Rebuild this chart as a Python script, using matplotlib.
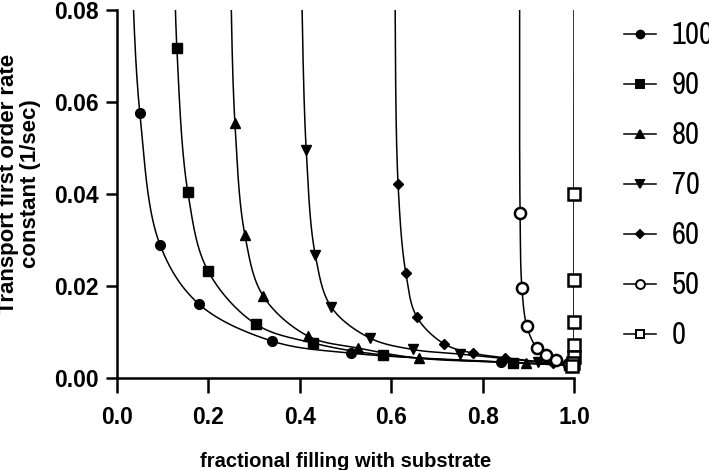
import matplotlib
matplotlib.use("Agg")
import matplotlib.pyplot as plt
from matplotlib.lines import Line2D
import numpy as np

# fractional filling (x) and transport rate constant (y, 1/sec) for each series
x100 = [0.028, 0.050, 0.094, 0.180, 0.340, 0.511, 0.840, 0.990]
y100 = [0.100, 0.0576, 0.0290, 0.0160, 0.0080, 0.0054, 0.0035, 0.0027]

x90 = [0.124, 0.131, 0.155, 0.199, 0.304, 0.429, 0.582, 0.866, 0.990]
y90 = [0.100, 0.0717, 0.0404, 0.0233, 0.0117, 0.0076, 0.0050, 0.0033, 0.0028]

x80 = [0.246, 0.258, 0.280, 0.320, 0.418, 0.528, 0.661, 0.894, 0.990]
y80 = [0.100, 0.0554, 0.0310, 0.0178, 0.0091, 0.0065, 0.0043, 0.0033, 0.0028]

x70 = [0.401, 0.414, 0.434, 0.469, 0.553, 0.647, 0.750, 0.922, 0.990]
y70 = [0.100, 0.0496, 0.0267, 0.0154, 0.0087, 0.0062, 0.0052, 0.0035, 0.0029]

x60 = [0.607, 0.615, 0.632, 0.656, 0.716, 0.779, 0.849, 0.954, 0.990]
y60 = [0.100, 0.0422, 0.0228, 0.0133, 0.0074, 0.0054, 0.0044, 0.0032, 0.0028]

x50 = [0.881, 0.882, 0.886, 0.897, 0.918, 0.939, 0.960, 0.990]
y50 = [0.100, 0.0358, 0.0196, 0.0112, 0.0066, 0.0050, 0.0040, 0.0030]

x0 = [1.000, 1.000, 1.000, 1.000, 1.000, 0.999, 0.998, 0.995]
y0 = [0.100, 0.0400, 0.0213, 0.0122, 0.0072, 0.0045, 0.0033, 0.0027]

labels = ["100", "90", "80", "70", "60", "50", "0"]

BOLD = "Liberation Sans"
NARROW = ["Archivo Narrow", "Liberation Sans"]


def spline(x, y, n=40):
    # centripetal Catmull-Rom through the points (drawn like a Prism spline)
    P = np.column_stack([np.asarray(x) * 457.0, np.asarray(y) * 4600.0])
    P = np.vstack([2 * P[0] - P[1], P, 2 * P[-1] - P[-2]])
    out = []
    for i in range(1, len(P) - 2):
        p0, p1, p2, p3 = P[i - 1], P[i], P[i + 1], P[i + 2]
        t0 = 0.0
        t1 = t0 + max(np.linalg.norm(p1 - p0), 1e-6) ** 0.5
        t2 = t1 + max(np.linalg.norm(p2 - p1), 1e-6) ** 0.5
        t3 = t2 + max(np.linalg.norm(p3 - p2), 1e-6) ** 0.5
        t = np.linspace(t1, t2, n)[:, None]
        a1 = (t1 - t) / (t1 - t0) * p0 + (t - t0) / (t1 - t0) * p1
        a2 = (t2 - t) / (t2 - t1) * p1 + (t - t1) / (t2 - t1) * p2
        a3 = (t3 - t) / (t3 - t2) * p2 + (t - t2) / (t3 - t2) * p3
        b1 = (t2 - t) / (t2 - t0) * a1 + (t - t0) / (t2 - t0) * a2
        b2 = (t3 - t) / (t3 - t1) * a2 + (t - t1) / (t3 - t1) * a3
        out.append((t2 - t) / (t2 - t1) * b1 + (t - t1) / (t2 - t1) * b2)
    c = np.vstack(out)
    return c[:, 0] / 457.0, c[:, 1] / 4600.0


fig = plt.figure(figsize=(7.09, 4.70), dpi=100)
ax = fig.add_axes([117 / 709, 1 - 378 / 470, 457 / 709, 368 / 470])

series = [
    (x100, y100, dict(marker="o", ms=7, mfc="black")),
    (x90, y90, dict(marker="s", ms=7, mfc="black")),
    (x80, y80, dict(marker="^", ms=7, mfc="black")),
    (x70, y70, dict(marker="v", ms=7, mfc="black")),
    (x60, y60, dict(marker="D", ms=5, mfc="black")),
    (x50, y50, dict(marker="o", ms=8, mfc="white", mew=1.8)),
    (x0, y0, dict(marker="s", ms=8, mfc="white", mew=1.8)),
]

handles = []
for (x, y, style), lab in zip(series, labels):
    sx, sy = spline(x, y)
    ax.plot(sx, sy, color="black", lw=1.1)
    xa, ya = np.array(x), np.array(y)
    keep = ya <= 0.08
    ax.plot(xa[keep], ya[keep], ls="none", color="black", mec="black",
            clip_on=False, zorder=3, **style)
    leg_style = dict(style)
    leg_style["ms"] = style["ms"] * 0.8
    leg_style["mew"] = 1.4
    handles.append(Line2D([], [], color="black", lw=1.1, mec="black", **leg_style))

ax.set_xlim(0, 1.0)
ax.set_ylim(0, 0.08)
ax.set_xticks([0.0, 0.2, 0.4, 0.6, 0.8, 1.0])
ax.set_xticklabels(["0.0", "0.2", "0.4", "0.6", "0.8", "1.0"])
ax.set_yticks([0.00, 0.02, 0.04, 0.06, 0.08])
ax.set_yticklabels(["0.00", "0.02", "0.04", "0.06", "0.08"])

for s in ["top", "right"]:
    ax.spines[s].set_visible(False)
for s in ["left", "bottom"]:
    ax.spines[s].set_linewidth(1.8)

ax.tick_params(axis="x", length=11, width=1.8, pad=9)
ax.tick_params(axis="y", length=8, width=1.8, pad=5)
for t in ax.get_xticklabels() + ax.get_yticklabels():
    t.set_family(BOLD)
    t.set_fontweight("bold")
    t.set_fontsize(16.5)

ax.set_xlabel("fractional filling with substrate", family=BOLD,
              fontweight="bold", fontsize=14.5, labelpad=17)
fig.text(0.028, 1 - 184 / 470,
         "Transport first order rate\nconstant (1/sec)", rotation=90,
         ha="center", va="center", family=BOLD,
         fontweight="bold", fontsize=16, linespacing=1.05)

leg = ax.legend(handles, labels, loc="upper left",
                bbox_to_anchor=(609 / 709, 1 - 6 / 470),
                bbox_transform=fig.transFigure, frameon=False,
                prop=dict(family=NARROW, size=22), handlelength=1.05,
                handletextpad=0.5, labelspacing=0.72, borderpad=0)

fig.savefig("out.png", dpi=100)
